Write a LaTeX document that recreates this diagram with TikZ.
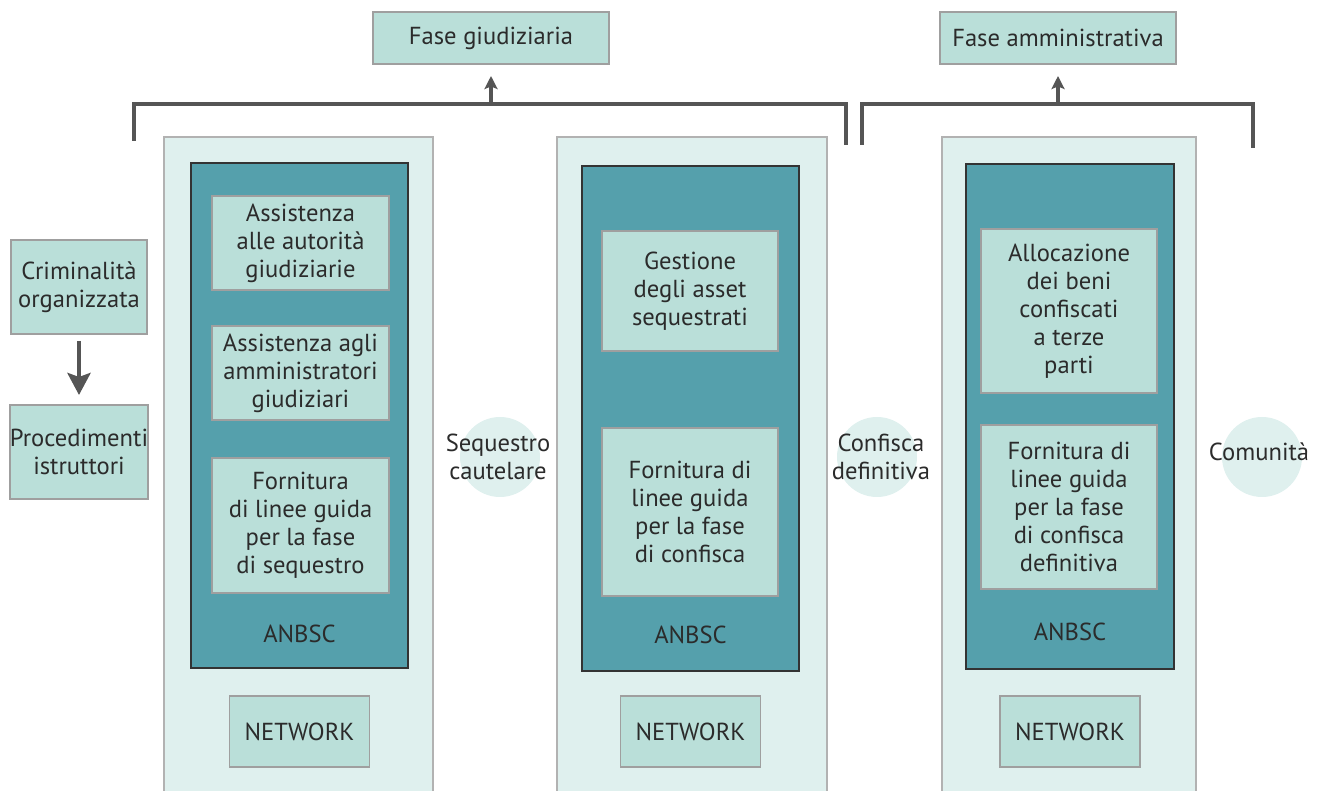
\documentclass[tikz,border=0pt]{standalone}
\usepackage{fontspec}
\setmainfont{PT Sans}
\usetikzlibrary{positioning,arrows.meta}
\definecolor{panelfill}{HTML}{DFF0EE}
\definecolor{boxfill}{HTML}{BADFD9}
\definecolor{darkteal}{HTML}{55A0AC}
\definecolor{linegray}{HTML}{555555}
\definecolor{textgray}{HTML}{2B2B2B}

\begin{document}
\begin{tikzpicture}[
    x=0.2mm, y=-0.2mm,
    node distance=7mm,
every node/.style = {font=\fontsize{14}{16}\selectfont, text=textgray},
   mybox/.style = {
        draw=gray!75, fill=boxfill, align=center,
        inner sep=0pt, outer sep=0pt, line width=0.8pt},
 mypanel/.style = {fill=panelfill, inner sep=0pt, outer sep=0pt},
  mydark/.style = {
        draw=black!80, fill=darkteal, inner sep=0pt, outer sep=0pt,
        line width=0.8pt, minimum height=10.1cm},
mycircle/.style = {circle, fill=panelfill, minimum size=1.6cm, inner sep=0pt},
mylabel/.style  = {align=center, inner sep=0pt},
panelline/.style = {draw=gray!60, line width=0.8pt},
 bracket/.style = {draw=linegray, line width=2pt},
   arrow/.style = {draw=linegray, line width=2pt,
                   -{Stealth[length=2.6mm, width=2.6mm, inset=0.5mm]}}
                    ]
\useasboundingbox (0,0) rectangle (1325,791);
% the phases on top
\node (fg) [mybox, minimum width=4.72cm, minimum height=1.04cm] at (491,38)
                {Fase giudiziaria};
\node (fa) [mybox, minimum width=4.72cm, minimum height=1.04cm] at (1058,38)
                {Fase amministrativa};
% the light panels
\node (p1) [mypanel, minimum width=5.38cm, minimum height=13.08cm] at (298.5,464) {};
\node (p2) [mypanel, minimum width=5.40cm, minimum height=13.08cm] at (692,464) {};
\node (p3) [mypanel, minimum width=5.08cm, minimum height=13.08cm] at (1069,464) {};
\foreach \p in {p1,p2,p3}
    \draw[panelline] (\p.south west) |- (\p.north east) -- (\p.south east);
% the brackets with the arrows
\coordinate (g1) at (134,141);
\coordinate (gm) at (491,104);
\coordinate (g2) at (846,145);
\coordinate (h1) at (862,145);
\coordinate (hm) at (1058,104);
\coordinate (h2) at (1253,148);
\draw[bracket] (g1) |- (gm) -| (g2);
\draw[bracket] (h1) |- (hm) -| (h2);
\draw[arrow,shorten >=2.4mm] (gm) -- (fg.south);
\draw[arrow,shorten >=2.4mm] (hm) -- (fa.south);
% the dark boxes
\node (d1) [mydark, minimum width=4.34cm] at (299.5,415.5) {};
\node (d2) [mydark, minimum width=4.34cm] at (690.5,418.5) {};
\node (d3) [mydark, minimum width=4.16cm] at (1070,416.5) {};
\node (a1) [above=3.8mm of d1.south] {ANBSC};
\node (a2) [above=4.2mm of d2.south] {ANBSC};
\node (a3) [above=4.3mm of d3.south] {ANBSC};
% the tasks in the first panel
\node (b1a) [mybox, minimum width=3.54cm, minimum height=1.88cm] at (300.5,243)
                {Assistenza\\alle autorità\\giudiziarie};
\node (b1b) [mybox, minimum width=3.54cm, minimum height=1.88cm, below=7.2mm of b1a]
                {Assistenza agli\\amministratori\\giudiziari};
\node (b1c) [mybox, minimum width=3.54cm, minimum height=2.7cm, below=7.6mm of b1b]
                {Fornitura\\di linee guida\\per la fase\\di sequestro};
% the tasks in the second panel
\node (b2a) [mybox, minimum width=3.52cm, minimum height=2.4cm] at (690,291)
                {Gestione\\degli asset\\sequestrati};
\node (b2b) [mybox, minimum width=3.52cm, minimum height=3.36cm, below=15.4mm of b2a]
                {Fornitura di\\linee guida\\per la fase\\di confisca};
% the tasks in the third panel
\node (b3a) [mybox, minimum width=3.52cm, minimum height=3.28cm] at (1069,311)
                {Allocazione\\dei beni\\confiscati\\a terze\\parti};
\node (b3b) [mybox, minimum width=3.52cm, minimum height=3.28cm, below=6.4mm of b3a]
                {Fornitura di\\linee guida\\per la fase\\di confisca\\definitiva};
% the networks
\node (n1) [mybox, minimum width=2.8cm, minimum height=1.42cm, below=5.6mm of d1] {NETWORK};
\node (n2) [mybox, minimum width=2.8cm, minimum height=1.42cm, below=5mm of d2] {NETWORK};
\node (n3) [mybox, minimum width=2.8cm, minimum height=1.42cm, below=5.4mm of d3] {NETWORK};
% the boxes on the left
\node (cr) [mybox, minimum width=2.72cm, minimum height=1.88cm] at (79,287)
                {Criminalità\\organizzata};
\node (pr) [mybox, minimum width=2.72cm, minimum height=1.88cm, below=14.2mm of cr]
                {Procedimenti\\istruttori};
\draw[draw=linegray, line width=2.6pt,
      -{Stealth[length=4.4mm, width=4.6mm, inset=0.8mm]},
      shorten <=1.4mm, shorten >=2mm] (cr) -- (pr);
% the stages between the panels
\node (c1) [mycircle] at (500,457) {};
\node (c2) [mycircle] at (877,457) {};
\node (c3) [mycircle] at (1262,457) {};
\node (t1) [mylabel] at (498,457) {Sequestro\\cautelare};
\node (t2) [mylabel] at (881,457) {Confisca\\definitiva};
\node (t3) [mylabel] at (1259,452) {Comunità};
\end{tikzpicture}
\end{document}
